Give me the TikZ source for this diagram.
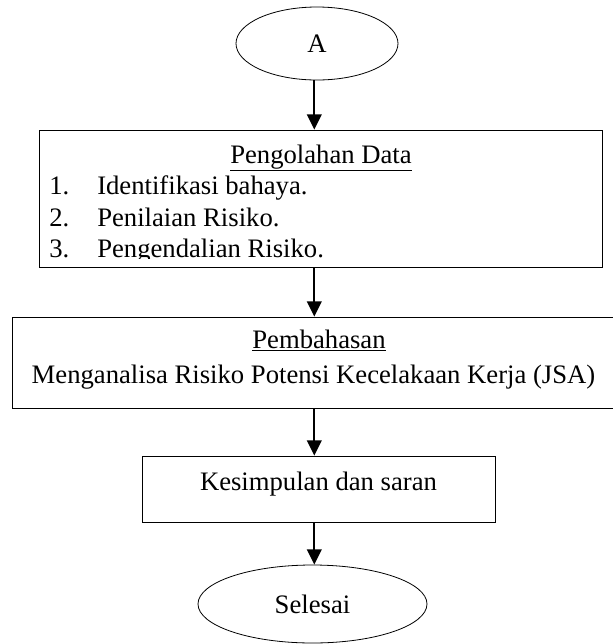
\documentclass[tikz,border=0pt]{standalone}
\usepackage{fontspec}
\setmainfont{Liberation Serif}
\usetikzlibrary{shapes.geometric}
\usetikzlibrary{arrows.meta}

\begin{document}
\begin{tikzpicture}[x = 0.75pt, y = -0.75pt]
\tikzstyle{TerminalStyle} = [shape = ellipse, draw, line width = 0.6pt, inner sep = 0pt, font = \fontsize{20}{24}\selectfont]
\tikzstyle{BoxStyle} = [shape = rectangle, draw, line width = 0.6pt, inner sep = 0pt]
\tikzstyle{TextStyle} = [inner sep = 0pt, font = \fontsize{20}{24}\selectfont]
\tikzstyle{FlowStyle} = [line width = 1.5pt, -{Triangle[width = 11pt, length = 11.5pt]}]
\useasboundingbox (0,0) rectangle (613,644);
\node[TerminalStyle, minimum width = 121.5pt, minimum height = 54.75pt] (start) at (317,43.5) {A};
\node[BoxStyle, minimum width = 422.25pt, minimum height = 102.75pt] (olah) at (320.5,198.5) {};
\node[BoxStyle, minimum width = 456pt, minimum height = 68.25pt] (bahas) at (316,362.5) {};
\node[BoxStyle, minimum width = 264.75pt, minimum height = 49.5pt] (simpul) at (318.5,489) {};
\node[TerminalStyle, minimum width = 171.75pt, minimum height = 58.5pt] (selesai) at (312.5,604) {Selesai};
\node[TextStyle, anchor = base] (olahjudul) at (321,163) {\underline{Pengolahan Data}};
\begin{scope}
\clip (olah.north west) rectangle ([yshift = 7pt]olah.south east);
\node[TextStyle, anchor = base west] (no1) at (49,194) {1.};
\node[TextStyle, anchor = base west] (isi1) at (97,194) {Identifikasi bahaya.};
\node[TextStyle, anchor = base west] (no2) at (49,226) {2.};
\node[TextStyle, anchor = base west] (isi2) at (97,226) {Penilaian Risiko.};
\node[TextStyle, anchor = base west] (no3) at (49,257) {3.};
\node[TextStyle, anchor = base west] (isi3) at (97,257) {Pengendalian Risiko.};
\end{scope}
\node[TextStyle, anchor = base] (bahasjudul) at (319,348) {\underline{Pembahasan}};
\node[TextStyle, anchor = base] (bahasisi) at (313.5,383) {Menganalisa Risiko Potensi Kecelakaan Kerja (JSA)};
\node[TextStyle, anchor = base] (simpulisi) at (318.5,490) {Kesimpulan dan saran};
\draw[FlowStyle] ([xshift = -2pt]start.south) -- ([xshift = -2pt]start.south |- olah.north);
\draw[FlowStyle] ([xshift = -2pt]start.south |- olah.south) -- ([xshift = -2pt]start.south |- bahas.north);
\draw[FlowStyle] ([xshift = -2pt]start.south |- bahas.south) -- ([xshift = -2pt]start.south |- simpul.north);
\draw[FlowStyle] ([xshift = -2pt]start.south |- simpul.south) -- ([xshift = -2pt]start.south |- selesai.north);
\end{tikzpicture}
\end{document}
